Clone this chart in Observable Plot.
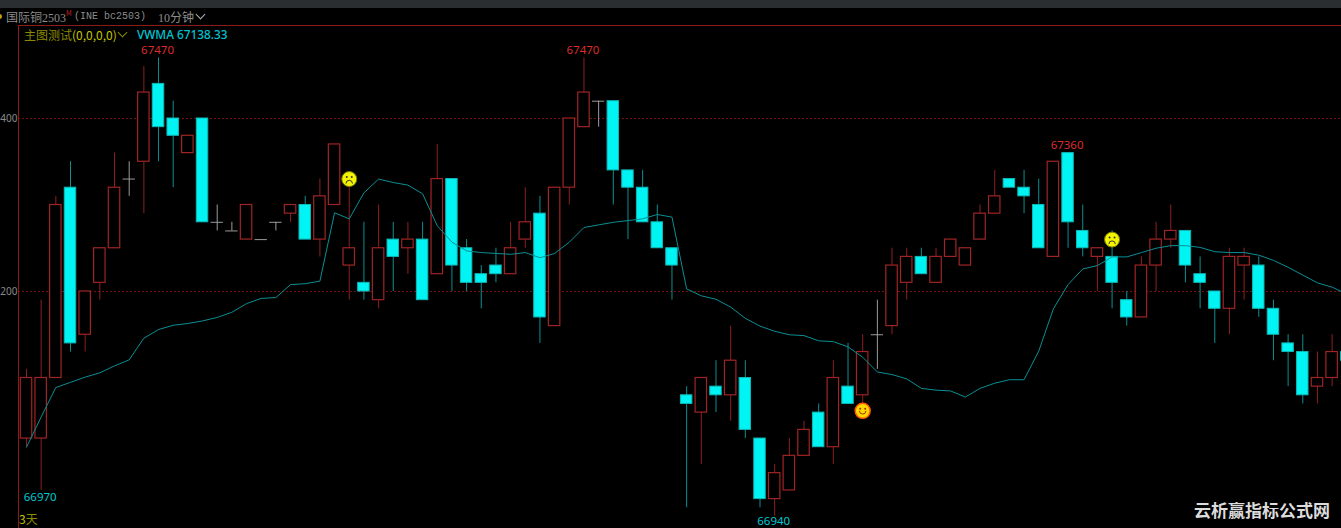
<!DOCTYPE html>
<html><head><meta charset="utf-8">
<script src="https://cdn.jsdelivr.net/npm/d3@7"></script>
<script src="https://cdn.jsdelivr.net/npm/@observablehq/plot@0.6"></script>
<style>
html,body{margin:0;padding:0;background:#000;width:1341px;height:528px;overflow:hidden}
#wrap{position:relative;width:1341px;height:528px;background:#000;overflow:hidden}
#topbar{height:8px;background:#2b2e31}
#head{height:17px;background:#000;position:relative;font:12px "Noto Sans CJK SC";color:#8c8c8c;white-space:nowrap}
#head span{position:absolute;top:0;line-height:17px}
#head span span{position:static}
#chart svg{display:block;background:#000}
.ov{position:absolute;white-space:nowrap}
.chev{position:absolute;width:6px;height:6px;border-right:1px solid;border-bottom:1px solid;transform:rotate(45deg)}
</style></head><body><div id="wrap">
<div id="topbar"></div>
<div id="head">
<span style="left:-3px;top:6px;width:5px;height:5px;background:#c8a000;border-radius:50%"></span>
<span style="left:6px">国际铜<span style="font:12px 'Liberation Serif'">2503</span></span>
<span style="left:66px;top:-3px;color:#c02020;font-size:7px">M</span>
<span style="left:74px;font-family:'Liberation Mono';font-size:10px;transform:scaleY(1.15)">(INE bc2503)</span>
<span style="left:158px"><span style="font:12px 'Liberation Serif'">10</span>分钟</span>
<i class="chev" style="left:197px;top:3px;color:#b0b0b0"></i>
</div>
<div id="chart"></div>
<div class="ov" style="left:24px;top:26px;font:12px 'Noto Sans CJK SC';color:#8a8a00">主图测试<span style="color:#c4c400">(0,0,0,0)</span></div>
<i class="chev" style="left:119px;top:29px;color:#8a8a00"></i>
<div class="ov" style="left:137px;top:26px;font:500 11.8px 'Noto Sans';color:#00c4d0">VWMA 67138.33</div>
<div class="ov" style="left:19px;top:510px;font:12px 'Noto Sans CJK SC';color:#8a8a00"><span style="color:#c4c400">3</span>天</div>
<div class="ov" style="left:1194px;top:497px;font:bold 17px 'Noto Sans CJK SC';color:#dcdcdc;letter-spacing:0">云析赢指标公式网</div>
</div>
<script>
// open, close, high, low per 10-minute bar (index = position)
const opens  = [67030,67030,67100,67320,67150,67210,67250,67330,67350,67440,67400,67360,67400,67280,67270,67260,67260,67280,67290,67300,67260,67300,67230,67210,67190,67260,67250,67260,67220,67330,67250,67220,67230,67220,67260,67290,67160,67320,67390,67420,67420,67340,67320,67280,67250,67080,67060,67090,67080,67100,67030,66960,66970,67010,67060,67020,67090,67080,67150,67160,67210,67240,67210,67240,67230,67260,67290,67330,67320,67300,67240,67360,67270,67240,67240,67190,67170,67230,67260,67270,67220,67200,67180,67230,67230,67180,67140,67130,67090,67100,67130];
const closes = [67100,67100,67300,67140,67200,67250,67320,67330,67430,67390,67380,67380,67280,67280,67270,67300,67260,67280,67300,67260,67310,67370,67250,67200,67250,67240,67260,67190,67330,67230,67210,67210,67220,67250,67280,67170,67320,67400,67430,67420,67340,67320,67280,67250,67230,67070,67100,67080,67120,67040,66960,66990,67010,67040,67020,67100,67070,67130,67150,67230,67240,67220,67240,67260,67250,67290,67310,67320,67310,67250,67350,67280,67250,67250,67210,67170,67230,67260,67270,67230,67210,67180,67240,67240,67180,67150,67130,67080,67100,67130,67120];
const highs  = [67110,67190,67310,67350,67200,67250,67360,67350,67460,67470,67420,67380,67400,67300,67280,67300,67260,67280,67300,67310,67330,67370,67330,67280,67300,67280,67280,67280,67370,67330,67260,67230,67250,67280,67320,67310,67320,67400,67470,67420,67420,67340,67340,67300,67250,67090,67100,67120,67160,67120,67030,67000,67030,67050,67070,67120,67140,67150,67190,67250,67250,67250,67250,67260,67250,67300,67340,67330,67340,67330,67350,67360,67300,67250,67270,67200,67240,67280,67300,67270,67240,67200,67250,67250,67240,67190,67150,67150,67130,67150,67130];
const lows   = [67020,66970,67100,67130,67130,67190,67250,67310,67290,67350,67320,67360,67280,67270,67270,67260,67260,67270,67280,67260,67240,67300,67190,67190,67180,67200,67220,67190,67220,67200,67200,67180,67210,67220,67250,67140,67160,67300,67390,67390,67300,67260,67280,67250,67190,66950,67000,67060,67050,67030,66950,66940,66970,67010,67020,67000,67070,67070,67110,67150,67190,67220,67210,67240,67230,67260,67290,67320,67290,67250,67240,67250,67240,67200,67180,67160,67170,67200,67250,67210,67180,67140,67150,67190,67170,67120,67090,67070,67070,67090,67120];
const vwma   = [67020,67055,67089,67095,67101,67106,67114,67121,67146,67156,67161,67163,67166,67170,67176,67186,67192,67193,67208,67209,67212,67291,67284,67314,67330,67326,67323,67313,67276,67257,67247,67245,67244,67243,67245,67239,67244,67257,67274,67277,67280,67282,67284,67289,67286,67203,67195,67191,67182,67169,67160,67154,67150,67149,67143,67142,67136,67124,67107,67104,67099,67088,67086,67085,67078,67088,67094,67098,67098,67131,67180,67208,67226,67230,67240,67240,67245,67250,67253,67253,67251,67246,67245,67245,67242,67236,67228,67219,67210,67205,67197];
const hiLabels = [
  {i:9,  p:67470, text:"67470"},
  {i:38, p:67470, text:"67470"},
  {i:71, p:67360, text:"67360"}
];
const loLabels = [{i:1, p:66970, text:"66970"}];
const edgeLabels = [{i:51, p:66940, text:"66940"}];
const frowns = [{i:22, p:67330},{i:74, p:67260}];
const smiles = [{i:57, p:67062}];
const gridPrices = [67400, 67200];

const bars = opens.map((o,i)=>({i,o,c:closes[i],h:highs[i],l:lows[i]}));
const halfBody = 0.39;
const red="#a02424", wickRed="#8c2020", cyan="#00f4f4", wickCyan="#0c8f90", gray="#9c9c9c", lineCol="#0a8f94";
const kind = d=> d.c>d.o?"up":d.c<d.o?"down":"flat";
const up = bars.filter(d=>kind(d)==="up"), down = bars.filter(d=>kind(d)==="down"), flat = bars.filter(d=>kind(d)==="flat");

// px scale: 400 at y=118, 200 at y=291 in page space; svg starts at y=25
const pxPerUnit = 173/200;
const svgH = 503, topGap = 118-25;
const spacing = 14.67;

const mouth = (smile)=>({draw(ctx,size){ const r=3.2; if(smile){ctx.moveTo(-r,0);ctx.arc(0,0,r,Math.PI,0,true);} else {ctx.moveTo(-r,4.5);ctx.arc(0,4.5,r,Math.PI,0,false);} }});

const plot = Plot.plot({
  width:1341, height:svgH,
  marginLeft:18, marginRight:0, marginTop:0, marginBottom:0,
  style:{background:"#000", overflow:"hidden"},
  x:{type:"linear", domain:[(18-26)/spacing,(1341-26)/spacing], axis:null},
  y:{type:"linear", domain:[67400-(svgH-topGap)/pxPerUnit, 67400+topGap/pxPerUnit]},
  marks:[
    Plot.gridY(gridPrices,{stroke:"#741212",strokeOpacity:1,strokeDasharray:"2,2",strokeWidth:1}),
    Plot.axisY(gridPrices,{anchor:"left",tickSize:0,tickPadding:1,label:null,tickFormat:d=>String(d).slice(2),fill:"#8a8a8a",fontSize:10,fontFamily:"Noto Sans"}),
    Plot.ruleX(up,{x:"i",y1:"l",y2:"h",stroke:wickRed,clip:"frame"}),
    Plot.ruleX(down,{x:"i",y1:"l",y2:"h",stroke:wickCyan,clip:"frame"}),
    Plot.ruleX(flat,{x:"i",y1:"l",y2:"h",stroke:gray,clip:"frame"}),
    Plot.ruleY(flat,{y:"c",x1:d=>d.i-halfBody-0.03,x2:d=>d.i+halfBody+0.03,stroke:gray,clip:"frame"}),
    Plot.rect(up,{x1:d=>d.i-halfBody,x2:d=>d.i+halfBody,y1:"o",y2:"c",fill:"#000",stroke:red,strokeWidth:1.2,clip:"frame"}),
    Plot.rect(down,{x1:d=>d.i-halfBody,x2:d=>d.i+halfBody,y1:"o",y2:"c",fill:cyan,stroke:"#0fb8b8",strokeWidth:1,clip:"frame"}),
    Plot.line(vwma,{x:(d,i)=>i,y:d=>d,stroke:lineCol,strokeWidth:1,clip:"frame",curve:"linear"}),
    Plot.text(hiLabels,{x:"i",y:"p",text:"text",dx:-1,dy:-7.5,fill:"#dc2c2c",fontSize:11.5,fontFamily:"Noto Sans"}),
    Plot.text(loLabels,{x:"i",y:"p",text:"text",dx:-1,dy:6.5,fill:"#00c8d0",fontSize:11.5,fontFamily:"Noto Sans"}),
    Plot.text(edgeLabels,{x:"i",y:"p",text:"text",dx:-1,dy:4.5,fill:"#00c8d0",fontSize:11.5,fontFamily:"Noto Sans"}),
    Plot.dot(frowns,{x:"i",y:"p",r:7.5,fill:"#f4f400",stroke:"#7a7a00",strokeWidth:1}),
    Plot.dot(frowns,{x:"i",y:"p",r:1,fill:"#333",dx:-2.5,dy:-2}),
    Plot.dot(frowns,{x:"i",y:"p",r:1,fill:"#333",dx:2.5,dy:-2}),
    Plot.dot(frowns,{x:"i",y:"p",symbol:mouth(false),r:3,fill:"none",stroke:"#333",strokeWidth:1}),
    Plot.dot(smiles,{x:"i",y:"p",r:7.5,fill:"#ffd800",stroke:"#ff5a00",strokeWidth:1.5}),
    Plot.dot(smiles,{x:"i",y:"p",r:1,fill:"#a03000",dx:-2.5,dy:-2}),
    Plot.dot(smiles,{x:"i",y:"p",r:1,fill:"#a03000",dx:2.5,dy:-2}),
    Plot.dot(smiles,{x:"i",y:"p",symbol:mouth(true),r:3,fill:"none",stroke:"#a03000",strokeWidth:1}),
    Plot.frame({anchor:"left",stroke:"#8e1a1a"}),
    Plot.frame({anchor:"top",stroke:"#8e1a1a"})
  ]
});
document.getElementById("chart").appendChild(plot);
</script></body></html>
